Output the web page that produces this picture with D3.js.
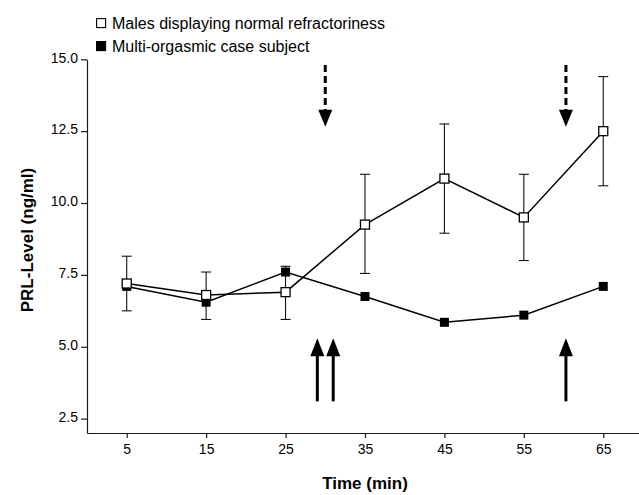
<!DOCTYPE html>
<html lang="en">

<head>
    <meta charset="UTF-8">
    <title>PRL-Level</title>
    <script src="https://d3js.org/d3.v7.min.js"></script>
    <style>
        body { margin: 0; background: #fff; }
        svg { display: block; font-family: "Liberation Sans", Arial, sans-serif; }
        .axis path, .axis line { stroke: #1a1a1a; stroke-width: 1.2; }
        .axis text { font-size: 14px; fill: #000; }
    </style>
</head>

<body>
    <svg width="639" height="495" id="grafico"></svg>
    <script>

        // datos
        var times = [5, 15, 25, 35, 45, 55, 65];
        var malesMean = [7.2, 6.8, 6.9, 9.25, 10.85, 9.5, 12.5];
        var malesUpper = [8.15, 7.6, 7.8, 11.0, 12.75, 11.0, 14.4];
        var malesLower = [6.25, 5.95, 5.95, 7.55, 8.95, 8.0, 10.6];
        var caseSubject = [7.1, 6.55, 7.6, 6.75, 5.85, 6.1, 7.1];

        var xTicks = [5, 15, 25, 35, 45, 55, 65];
        var yTicks = [2.5, 5.0, 7.5, 10.0, 12.5, 15.0];

        // flechas: continuas hacia arriba, discontinuas hacia abajo
        var upArrows = [29, 31, 60.3];
        var upSpan = [3.1, 5.3];
        var downArrows = [30, 60.3];
        var downSpan = [14.8, 12.65];

        var legendLabels = ["Males displaying normal refractoriness", "Multi-orgasmic case subject"];

        var svg = d3.select("svg");

        var x = d3.scaleLinear().domain([0, 69.5]).range([87, 639]),
            y = d3.scaleLinear().domain([2.0, 15.0]).range([433, 59.3]);

        var males = times.map(function (t, i) {
            return { t: t, v: malesMean[i], hi: malesUpper[i], lo: malesLower[i] };
        });
        var subject = times.map(function (t, i) {
            return { t: t, v: caseSubject[i] };
        });

        // ejes
        svg.append("g")
            .attr("class", "axis axis--x")
            .attr("transform", "translate(0," + y.range()[0] + ")")
            .call(d3.axisBottom(x).tickValues(xTicks).tickSizeInner(5).tickSizeOuter(0).tickPadding(6));

        svg.append("g")
            .attr("class", "axis axis--y")
            .attr("transform", "translate(" + x.range()[0] + ",0)")
            .call(d3.axisLeft(y).tickValues(yTicks).tickFormat(d3.format(".1f")).tickSizeInner(6).tickSizeOuter(0).tickPadding(3))
            .selectAll("text").attr("dy", "0.2em");

        svg.append("text")
            .attr("x", x(35))
            .attr("y", 489)
            .attr("text-anchor", "middle")
            .style("font-size", "17px")
            .style("font-weight", "bold")
            .text("Time (min)");

        svg.append("text")
            .attr("transform", "translate(33,240) rotate(-90)")
            .attr("text-anchor", "middle")
            .style("font-size", "17px")
            .style("font-weight", "bold")
            .text("PRL-Level (ng/ml)");

        var line = d3.line()
            .x(function (d) { return x(d.t); })
            .y(function (d) { return y(d.v); });

        // barras de error
        var err = svg.append("g").attr("stroke", "#111").attr("stroke-width", 1.1);
        males.forEach(function (d) {
            err.append("line").attr("x1", x(d.t)).attr("x2", x(d.t)).attr("y1", y(d.lo)).attr("y2", y(d.hi));
            err.append("line").attr("x1", x(d.t) - 5).attr("x2", x(d.t) + 5).attr("y1", y(d.lo)).attr("y2", y(d.lo));
            err.append("line").attr("x1", x(d.t) - 5).attr("x2", x(d.t) + 5).attr("y1", y(d.hi)).attr("y2", y(d.hi));
        });

        svg.append("path").datum(subject)
            .attr("fill", "none").attr("stroke", "#000").attr("stroke-width", 1.5)
            .attr("d", line);

        svg.append("path").datum(males)
            .attr("fill", "none").attr("stroke", "#000").attr("stroke-width", 1.5)
            .attr("d", line);

        svg.selectAll(".filled").data(subject).enter().append("rect")
            .attr("class", "filled")
            .attr("x", function (d) { return x(d.t) - 4.5; })
            .attr("y", function (d) { return y(d.v) - 4.5; })
            .attr("width", 9).attr("height", 9)
            .attr("fill", "#000");

        svg.selectAll(".open").data(males).enter().append("rect")
            .attr("class", "open")
            .attr("x", function (d) { return x(d.t) - 4.5; })
            .attr("y", function (d) { return y(d.v) - 4.5; })
            .attr("width", 9).attr("height", 9)
            .attr("fill", "#fff").attr("stroke", "#000").attr("stroke-width", 1.3);

        // flechas continuas
        upArrows.forEach(function (t) {
            var cx = x(t), tip = y(upSpan[1]), base = y(upSpan[0]);
            svg.append("line")
                .attr("x1", cx).attr("x2", cx).attr("y1", base).attr("y2", tip + 14)
                .attr("stroke", "#000").attr("stroke-width", 3);
            svg.append("path")
                .attr("d", "M" + cx + "," + tip + "L" + (cx - 7) + "," + (tip + 18) + "L" + (cx + 7) + "," + (tip + 18) + "Z")
                .attr("fill", "#000");
        });

        // flechas discontinuas
        downArrows.forEach(function (t) {
            var cx = x(t), top = y(downSpan[0]), tip = y(downSpan[1]);
            svg.append("line")
                .attr("x1", cx).attr("x2", cx).attr("y1", top).attr("y2", tip - 16)
                .attr("stroke", "#000").attr("stroke-width", 3)
                .attr("stroke-dasharray", "7,4");
            svg.append("path")
                .attr("d", "M" + cx + "," + tip + "L" + (cx - 7) + "," + (tip - 17) + "L" + (cx + 7) + "," + (tip - 17) + "Z")
                .attr("fill", "#000");
        });

        // leyenda
        var legend = svg.append("g").attr("transform", "translate(96,18)");
        legend.selectAll("rect").data(legendLabels).enter().append("rect")
            .attr("x", 0.6)
            .attr("y", function (d, i) { return i * 23 + 0.6; })
            .attr("width", 9).attr("height", 9)
            .attr("fill", function (d, i) { return i == 0 ? "#fff" : "#000"; })
            .attr("stroke", "#000").attr("stroke-width", 1.1);
        legend.selectAll("text").data(legendLabels).enter().append("text")
            .attr("x", 16)
            .attr("y", function (d, i) { return i * 23 + 10.5; })
            .style("font-size", "16px")
            .text(function (d) { return d; });

    </script>
</body>

</html>
